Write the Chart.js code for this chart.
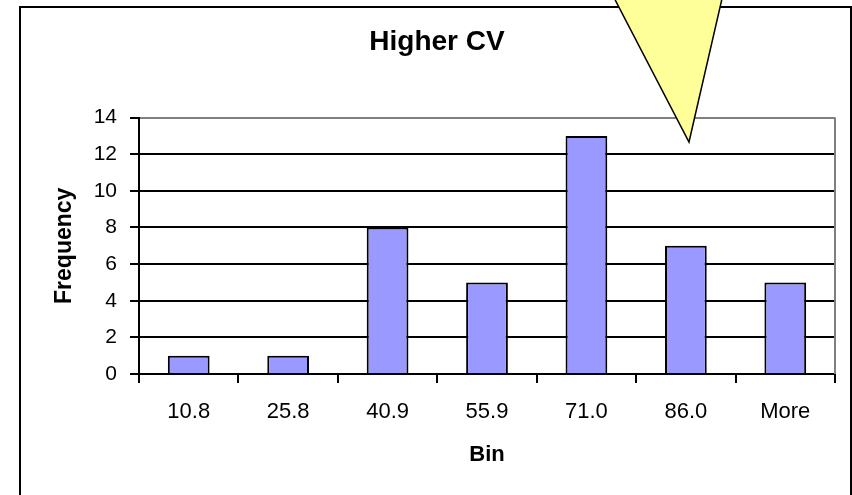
<!DOCTYPE html>
<html>
<head>
<meta charset="utf-8">
<script src="https://cdn.jsdelivr.net/npm/chart.js@4.4.1/dist/chart.umd.min.js"></script>
<style>
  html, body { margin: 0; padding: 0; background: #fff; }
  canvas { display: block; }
</style>
</head>
<body>
<canvas id="histChart" width="852" height="495"></canvas>
<script>
const bins = ["10.8", "25.8", "40.9", "55.9", "71.0", "86.0", "More"];
const frequency = [1, 1, 8, 5, 13, 7, 5];
const yMin = 0;
const yMax = 14;
const yStep = 2;

const font = "'Liberation Sans', Arial, sans-serif";

// white page, outer frame, grey plot border and the yellow callout pointer
const framePlugin = {
  id: "frame",
  beforeDraw(chart) {
    const ctx = chart.ctx;
    ctx.save();
    ctx.fillStyle = "#fff";
    ctx.fillRect(0, 0, chart.width, chart.height);
    ctx.strokeStyle = "#000";
    ctx.lineWidth = 2;
    ctx.beginPath();
    ctx.moveTo(20, chart.height + 5);
    ctx.lineTo(20, 7);
    ctx.lineTo(851, 7);
    ctx.lineTo(851, chart.height + 5);
    ctx.stroke();
    ctx.restore();
  },
  afterDatasetsDraw(chart) {
    const { ctx, chartArea } = chart;
    ctx.save();
    ctx.strokeStyle = "#808080";
    ctx.lineWidth = 2;
    ctx.beginPath();
    ctx.moveTo(chartArea.right, chartArea.top);
    ctx.lineTo(chartArea.right, chartArea.bottom);
    ctx.stroke();
    ctx.restore();
  },
  afterDraw(chart) {
    const ctx = chart.ctx;
    ctx.save();
    ctx.fillStyle = "#ffff99";
    ctx.strokeStyle = "#000";
    ctx.lineWidth = 1.5;
    ctx.beginPath();
    ctx.moveTo(610, -10);
    ctx.lineTo(689, 142);
    ctx.lineTo(724, -10);
    ctx.closePath();
    ctx.fill();
    ctx.stroke();
    ctx.restore();
  }
};

const ctx = document.getElementById("histChart").getContext("2d");
new Chart(ctx, {
  type: "bar",
  data: {
    labels: bins,
    datasets: [
      {
        label: "Frequency",
        data: frequency,
        backgroundColor: "#9999ff",
        borderColor: "#000",
        borderWidth: 2,
        barPercentage: 0.42,
        categoryPercentage: 1
      }
    ]
  },
  plugins: [framePlugin],
  options: {
    responsive: false,
    animation: false,
    layout: { padding: { left: 39, right: 17, top: 0, bottom: 0 } },
    plugins: {
      legend: { display: false },
      tooltip: { enabled: false },
      title: {
        display: true,
        text: "Higher CV",
        color: "#000",
        font: { family: font, size: 28, weight: "bold" },
        padding: { top: 25, bottom: 59 }
      }
    },
    scales: {
      x: {
        afterFit(scale) { scale.height = 121; },
        grid: {
          drawOnChartArea: false,
          drawTicks: true,
          tickLength: 9,
          color: "#000",
          lineWidth: 2
        },
        border: { color: "#000", width: 2 },
        ticks: {
          color: "#000",
          font: { family: font, size: 22 },
          padding: 16
        },
        title: {
          display: true,
          text: "Bin",
          color: "#000",
          font: { family: font, size: 22, weight: "bold" },
          padding: { top: 0, bottom: 27 }
        }
      },
      y: {
        min: yMin,
        max: yMax,
        afterFit(scale) { scale.width = 100; },
        grid: {
          color: (c) => (c.tick && c.tick.value === yMax ? "#808080" : "#000"),
          tickColor: "#000",
          lineWidth: 2,
          tickLength: 9
        },
        border: { color: "#000", width: 2 },
        ticks: {
          stepSize: yStep,
          color: "#000",
          font: { family: font, size: 21 },
          padding: 13
        },
        title: {
          display: true,
          text: "Frequency",
          color: "#000",
          font: { family: font, size: 23, weight: "bold" },
          padding: { top: 12, bottom: 0 }
        }
      }
    }
  }
});
</script>
</body>
</html>
